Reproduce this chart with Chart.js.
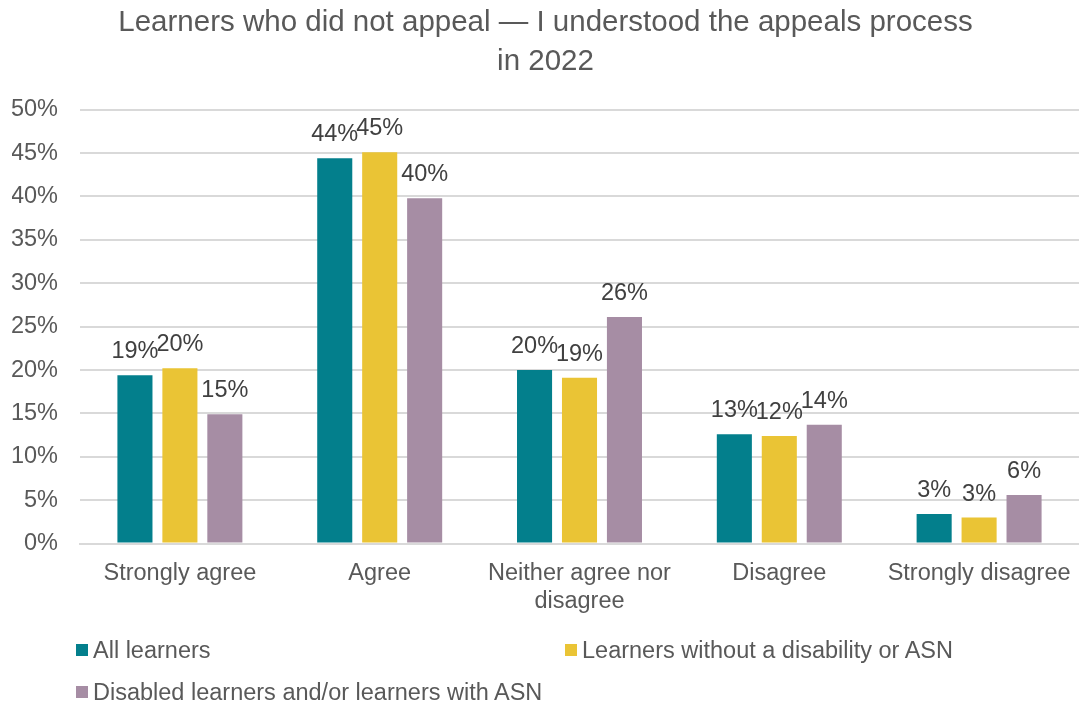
<!DOCTYPE html>
<html>
<head>
<meta charset="utf-8">
<script src="https://cdn.jsdelivr.net/npm/chart.js@4"></script>
<style>
  body { margin: 0; background: #fff; font-family: "Liberation Sans", Arial, sans-serif; }
  #wrap { position: relative; width: 1079px; height: 707px; }
  #box { position: absolute; left: 0; top: 0; width: 1079px; height: 624px; }
  #legend { position: absolute; left: 0; top: 622px; width: 1079px; height: 85px; }
  .item { position: absolute; font-size: 23.5px; color: #595959; white-space: nowrap; line-height: 26px; }
  .item span.sw { display: inline-block; width: 12px; height: 12px; margin-right: 5px; vertical-align: 2px; }
</style>
</head>
<body>
<div id="wrap">
  <div id="box"><canvas id="chart"></canvas></div>
  <div id="legend"></div>
</div>
<script>
const categories = ["Strongly agree", "Agree", ["Neither agree nor", "disagree"], "Disagree", "Strongly disagree"];
const seriesNames = ["All learners", "Learners without a disability or ASN", "Disabled learners and/or learners with ASN"];
const allLearners = [19.4, 44.4, 20.0, 12.6, 3.4];
const withoutDisability = [20.2, 45.1, 19.1, 12.4, 3.0];
const disabledOrAsn = [14.9, 39.8, 26.1, 13.7, 5.6];
const colors = ["#037F8C", "#EAC435", "#A68DA4"];
const yTicks = [0, 5, 10, 15, 20, 25, 30, 35, 40, 45, 50];

const seriesValues = [allLearners, withoutDisability, disabledOrAsn];
const FONT = "'Liberation Sans', Arial, sans-serif";

const valueLabels = {
  id: "valueLabels",
  afterDatasetsDraw(chart) {
    const ctx = chart.ctx;
    ctx.save();
    ctx.font = "23.5px " + FONT;
    ctx.fillStyle = "#404040";
    ctx.textAlign = "center";
    ctx.textBaseline = "alphabetic";
    chart.data.datasets.forEach((ds, i) => {
      chart.getDatasetMeta(i).data.forEach((bar, j) => {
        ctx.fillText(Math.round(ds.data[j]) + "%", bar.x, bar.y - 17);
      });
    });
    ctx.restore();
  }
};

new Chart(document.getElementById("chart"), {
  type: "bar",
  data: {
    labels: categories,
    datasets: seriesValues.map((vals, i) => ({
      label: seriesNames[i],
      data: vals,
      backgroundColor: colors[i],
      categoryPercentage: 0.675,
      barPercentage: 0.78,
    })),
  },
  options: {
    responsive: true,
    maintainAspectRatio: false,
    animation: false,
    layout: { padding: { left: 12, right: 0, top: 4, bottom: 0 } },
    plugins: {
      legend: { display: false },
      tooltip: { enabled: false },
      title: {
        display: true,
        text: ["Learners who did not appeal \u2014 I understood the appeals process", "in 2022"],
        color: "#595959",
        font: { family: FONT, size: 29.5, weight: "normal", lineHeight: 1.3 },
        padding: { top: 0, bottom: 29 },
      },
    },
    scales: {
      x: {
        grid: { display: false },
        border: { color: "#d9d9d9", width: 2 },
        ticks: {
          color: "#595959",
          font: { family: FONT, size: 23.5, lineHeight: 1.2 },
          maxRotation: 0,
          autoSkip: false,
          padding: 8,
        },
      },
      y: {
        min: 0,
        max: 50,
        afterBuildTicks: (axis) => { axis.ticks = yTicks.map((v) => ({ value: v })); },
        afterFit: (axis) => { axis.width = 68; },
        grid: { color: "#d9d9d9", lineWidth: 2, drawTicks: false },
        border: { display: false },
        ticks: {
          color: "#595959",
          font: { family: FONT, size: 23.5 },
          padding: 22,
          callback: (v) => v + "%",
        },
      },
    },
  },
  plugins: [valueLabels],
});

// legend below the chart, laid out as in the source (two columns)
const legendPos = [[76, 15], [565, 15], [76, 57]];
const legend = document.getElementById("legend");
seriesNames.forEach((name, i) => {
  const d = document.createElement("div");
  d.className = "item";
  d.style.left = legendPos[i][0] + "px";
  d.style.top = legendPos[i][1] + "px";
  d.innerHTML = `<span class="sw" style="background:${colors[i]}"></span>${name}`;
  legend.appendChild(d);
});
</script>
</body>
</html>
